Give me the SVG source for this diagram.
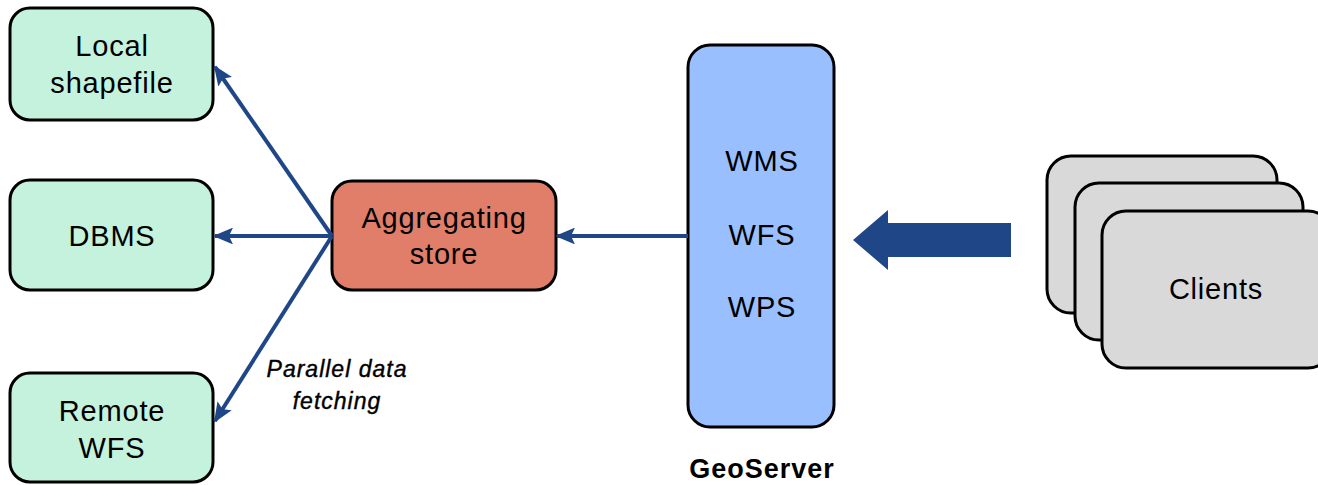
<svg xmlns="http://www.w3.org/2000/svg" width="1318" height="485" viewBox="0 0 1318 485">
<defs>
<marker id="ah" viewBox="0 0 10 10" refX="9" refY="5" markerWidth="5" markerHeight="4.2" orient="auto" markerUnits="strokeWidth" preserveAspectRatio="none">
<path d="M0,0 L10,5 L0,10 L2,5 z" fill="#1f4788"/>
</marker>
<style>
.box{stroke:#000;stroke-width:3}
.src{fill:#c5f2dc}
.t{font-family:"Liberation Sans",Arial,sans-serif;font-size:29px;letter-spacing:0.8px;fill:#000;text-anchor:middle}
.conn{stroke:#1f4788;stroke-width:4;fill:none;marker-end:url(#ah)}
.lbl{font-family:"Liberation Sans",Arial,sans-serif;font-size:23px;font-style:italic;letter-spacing:1px;text-anchor:middle;stroke:#000;stroke-width:0.4}
</style>
</defs>
<rect width="1318" height="485" fill="#fff"/>
<g id="local-shapefile">
<rect class="box src" x="10" y="8" width="203" height="112" rx="20"/>
<text class="t" x="112" y="56">Local</text>
<text class="t" x="112" y="93">shapefile</text>
</g>
<g id="dbms">
<rect class="box src" x="10" y="180" width="203" height="110" rx="20"/>
<text class="t" x="112" y="246">DBMS</text>
</g>
<g id="remote-wfs">
<rect class="box src" x="10" y="373" width="203" height="109" rx="20" stroke-width="5"/>
<text class="t" x="112" y="421">Remote</text>
<text class="t" x="112" y="458">WFS</text>
</g>
<g id="aggregating-store">
<rect class="box" x="332" y="181" width="224" height="109" rx="20" fill="#e07e6a"/>
<text class="t" x="444" y="228">Aggregating</text>
<text class="t" x="444" y="264">store</text>
</g>
<g id="geoserver">
<rect class="box" x="688" y="45" width="146" height="382" rx="22" fill="#99bfff"/>
<text class="t" x="762" y="171">WMS</text>
<text class="t" x="762" y="245">WFS</text>
<text class="t" x="762" y="317">WPS</text>
<text x="762" y="478" font-family="Liberation Sans,Arial,sans-serif" font-size="27" font-weight="bold" letter-spacing="1" text-anchor="middle">GeoServer</text>
</g>
<g id="clients">
<rect class="box" x="1047" y="156" width="230" height="157" rx="24" fill="#d9d9d9"/>
<rect class="box" x="1075" y="183" width="228" height="157" rx="24" fill="#d9d9d9"/>
<rect class="box" x="1102" y="211" width="230" height="157" rx="24" fill="#d9d9d9"/>
<text class="t" x="1216" y="299">Clients</text>
</g>
<g id="connectors">
<line class="conn" x1="688" y1="236" x2="557" y2="236"/>
<line class="conn" x1="332" y1="236" x2="215" y2="67"/>
<line class="conn" x1="332" y1="236" x2="215" y2="236"/>
<line class="conn" x1="332" y1="236" x2="215" y2="421"/>
<path d="M1011,223 L888,223 L888,210 L853,240 L888,270 L888,257 L1011,257 z" fill="#1f4788"/>
<text class="lbl" x="337" y="377">Parallel data</text>
<text class="lbl" x="337" y="409">fetching</text>
</g>
</svg>
